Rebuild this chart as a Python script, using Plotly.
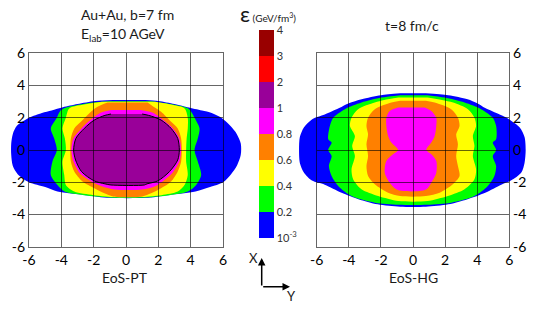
import plotly.graph_objects as go

W, H = 540, 309

# ---------------- data ----------------
LEVEL_COLORS = ["#0000FF", "#00FF00", "#FFFF00", "#FF8000", "#FF00FF", "#990099", "#FF0000", "#990000"]
CBAR_TICKTEXT = ["10<sup>-3</sup>", "0.2", "0.4", "0.6", "0.8", "1", "2", "3", "4"]
AXIS_TICKS = [-6, -4, -2, 0, 2, 4, 6]
AXIS_TICKTEXT = ["-6", "-4", "-2", "0", "2", "4", "6"]

# EoS-PT (left panel): contour regions as y-profiles of left/right edges (fm)
PT_BLUE_Y = [3.1, 3.04, 2.85, 2.65, 2.45, 2.3, 2.0, 1.5, 1.0, 0.4, -0.3, -1.0, -1.5, -2.0, -2.3, -2.58, -2.8, -2.97]
PT_BLUE_XL = [-0.8, -1.9, -3.0, -3.9, -4.6, -5.2, -6.0, -6.75, -7.0, -7.1, -7.1, -7.0, -6.7, -6.0, -5.0, -4.24, -2.5, -1.0]
PT_BLUE_XR = [1.2, 2.0, 3.0, 3.8, 4.7, 5.3, 5.9, 6.45, 6.85, 7.1, 7.1, 6.85, 6.5, 6.0, 5.2, 4.3, 2.6, 1.2]

PT_GREEN_Y = [3.03, 2.9, 2.6, 2.38, 2.0, 1.34, 0.72, 0.0, -0.72, -1.55, -2.17, -2.58, -2.8, -2.94]
PT_GREEN_XL = [-1.0, -2.4, -3.8, -4.1, -4.28, -4.65, -4.44, -4.28, -4.55, -4.65, -4.24, -3.8, -2.6, -1.0]
PT_GREEN_XR = [1.5, 2.5, 3.8, 4.03, 4.24, 4.55, 4.44, 4.24, 4.44, 4.65, 4.34, 3.82, 2.7, 1.2]

PT_YELLOW_Y = [2.99, 2.85, 2.58, 2.0, 1.34, 0.72, 0.0, -0.72, -1.55, -2.17, -2.58, -2.8, -2.91]
PT_YELLOW_XL = [-1.5, -2.4, -3.51, -3.72, -3.93, -3.78, -3.72, -3.93, -3.82, -3.72, -3.2, -2.0, -0.8]
PT_YELLOW_XR = [1.8, 2.6, 3.62, 3.82, 3.82, 3.75, 3.72, 3.72, 3.82, 3.62, 3.2, 2.2, 1.0]

PT_ORANGE_Y = [2.95, 2.69, 2.38, 1.76, 1.34, 0.72, 0.0, -0.72, -1.34, -1.96, -2.38, -2.69, -2.88]
PT_ORANGE_XL = [-1.14, -1.76, -2.17, -2.79, -3.2, -3.41, -3.45, -3.41, -3.2, -2.69, -1.96, -1.34, -0.8]
PT_ORANGE_XR = [1.34, 1.7, 2.17, 2.79, 3.2, 3.41, 3.45, 3.41, 3.2, 2.79, 2.17, 1.55, 1.0]

PT_MAGENTA_Y = [2.48, 2.3, 1.86, 1.34, 0.72, 0.0, -0.72, -1.45, -1.92, -2.25, -2.45]
PT_MAGENTA_XL = [-0.9, -1.6, -2.2, -2.75, -3.25, -3.38, -3.25, -2.85, -2.2, -1.5, -0.7]
PT_MAGENTA_XR = [0.9, 1.7, 2.3, 2.9, 3.3, 3.4, 3.3, 2.85, 2.3, 1.8, 1.0]

PT_PURPLE_Y = [2.23, 2.15, 1.86, 1.34, 0.72, 0.0, -0.62, -1.34, -1.92, -2.1, -2.17]
PT_PURPLE_XL = [-0.93, -1.3, -1.96, -2.58, -3.1, -3.24, -3.12, -2.75, -1.96, -1.3, -0.93]
PT_PURPLE_XR = [1.0, 1.4, 2.17, 2.79, 3.2, 3.3, 3.2, 2.69, 1.96, 1.3, 1.14]

# EoS-HG (right panel)
HG_BLUE_Y = [3.52, 3.4, 3.15, 2.9, 2.6, 2.2, 1.9, 1.4, 0.8, 0.0, -0.8, -1.4, -1.9, -2.15, -2.65, -3.05, -3.37, -3.52]
HG_BLUE_XL = [-0.8, -2.0, -3.2, -4.0, -4.6, -5.5, -6.3, -6.8, -7.05, -7.1, -7.05, -6.8, -6.3, -5.5, -4.45, -3.4, -2.2, -0.8]
HG_BLUE_XR = [0.8, 2.2, 3.4, 4.0, 4.5, 5.4, 6.0, 6.65, 6.95, 7.02, 6.95, 6.75, 6.1, 5.5, 4.5, 3.4, 2.2, 0.8]

HG_GREEN_Y = [3.4, 3.25, 2.94, 2.53, 2.0, 1.49, 0.66, 0.46, 0.0, -0.37, -1.0, -1.62, -2.24, -2.86, -3.27, -3.4]
HG_GREEN_XL = [-0.8, -1.97, -3.21, -4.24, -4.97, -5.18, -5.28, -5.07, -5.28, -5.07, -5.24, -5.07, -4.66, -3.83, -2.38, -0.9]
HG_GREEN_XR = [0.9, 1.97, 3.21, 4.24, 4.97, 5.18, 5.18, 4.97, 5.18, 4.97, 5.18, 5.07, 4.66, 3.83, 2.38, 0.9]

HG_YELLOW_Y = [3.25, 3.1, 2.94, 2.53, 2.0, 1.49, 0.87, 0.25, -0.37, -1.2, -1.82, -2.44, -2.86, -3.17]
HG_YELLOW_XL = [-0.9, -1.8, -2.38, -3.42, -3.83, -3.93, -3.62, -3.79, -3.62, -3.83, -3.73, -3.21, -2.17, -0.9]
HG_YELLOW_XR = [0.9, 1.8, 2.5, 3.42, 3.83, 3.93, 3.73, 3.83, 3.73, 3.93, 3.83, 3.21, 2.17, 0.9]

HG_ORANGE_Y = [3.05, 2.94, 2.53, 2.0, 1.49, 0.97, 0.35, -0.37, -1.0, -1.62, -2.13, -2.65, -2.86]
HG_ORANGE_XL = [-0.8, -1.35, -2.38, -2.8, -2.9, -2.8, -2.9, -2.8, -2.9, -2.8, -2.38, -1.55, -0.8]
HG_ORANGE_XR = [0.8, 1.35, 2.38, 2.8, 2.9, 2.69, 2.8, 2.69, 2.8, 2.9, 2.48, 1.66, 0.8]

HG_MAGENTA_Y = [2.63, 2.42, 2.0, 1.49, 0.87, 0.46, 0.0, -0.27, -0.68, -1.41, -2.03, -2.44, -2.55]
HG_MAGENTA_XL = [-0.93, -1.45, -1.66, -1.66, -1.55, -1.35, -0.93, -1.24, -1.66, -1.76, -1.45, -1.04, -0.6]
HG_MAGENTA_XR = [0.72, 1.14, 1.45, 1.45, 1.35, 1.14, 0.83, 1.14, 1.45, 1.45, 1.14, 0.83, 0.4]

PT_LEVELS = [
    (PT_BLUE_Y, PT_BLUE_XL, PT_BLUE_XR, 0),
    (PT_GREEN_Y, PT_GREEN_XL, PT_GREEN_XR, 1),
    (PT_YELLOW_Y, PT_YELLOW_XL, PT_YELLOW_XR, 2),
    (PT_ORANGE_Y, PT_ORANGE_XL, PT_ORANGE_XR, 3),
    (PT_MAGENTA_Y, PT_MAGENTA_XL, PT_MAGENTA_XR, 4),
    (PT_PURPLE_Y, PT_PURPLE_XL, PT_PURPLE_XR, 5),
]
HG_LEVELS = [
    (HG_BLUE_Y, HG_BLUE_XL, HG_BLUE_XR, 0),
    (HG_GREEN_Y, HG_GREEN_XL, HG_GREEN_XR, 1),
    (HG_YELLOW_Y, HG_YELLOW_XL, HG_YELLOW_XR, 2),
    (HG_ORANGE_Y, HG_ORANGE_XL, HG_ORANGE_XR, 3),
    (HG_MAGENTA_Y, HG_MAGENTA_XL, HG_MAGENTA_XR, 4),
]

# ---------------- layout geometry (pixels) ----------------
GRID_L = (29.0, 223.0)
GRID_R = (316.7, 509.3)
GRID_Y = (53.3, 246.7)
DATA_HALF = 7.5  # data axes span wider than the grid, as in the original


def px_dom_x(a, b):
    return [a / W, b / W]


def data_dom(grid):
    a, b = grid
    s = (b - a) / 12.0
    return px_dom_x((a + b) / 2 - DATA_HALF * s, (a + b) / 2 + DATA_HALF * s)


ydom = [1 - GRID_Y[1] / H, 1 - GRID_Y[0] / H]

fig = go.Figure()


def add_regions(levels, xa, ya):
    for ys, xl, xr, ci in levels:
        px = list(xl) + list(xr)[::-1]
        py = list(ys) + list(ys)[::-1]
        is_core = (ci == 5)
        fig.add_trace(go.Scatter(
            x=px, y=py, mode="lines", fill="toself",
            fillcolor=LEVEL_COLORS[ci],
            line=dict(color="black" if is_core else LEVEL_COLORS[ci],
                      width=1.0 if is_core else 0, shape="spline", smoothing=0.8),
            hoverinfo="skip", showlegend=False, xaxis=xa, yaxis=ya))


add_regions(PT_LEVELS, "x", "y")
add_regions(HG_LEVELS, "x2", "y2")

# colour bar carrier (invisible marker)
n = len(LEVEL_COLORS)
cscale = []
for i, c in enumerate(LEVEL_COLORS):
    cscale.append([i / n, c])
    cscale.append([(i + 1) / n, c])
fig.add_trace(go.Scatter(
    x=[0], y=[0], mode="markers", xaxis="x", yaxis="y", hoverinfo="skip", showlegend=False,
    marker=dict(size=1, opacity=0, color=[0], colorscale=cscale, cmin=0, cmax=n, showscale=True,
                colorbar=dict(x=259 / W, xanchor="left", xpad=0, y=1 - 30 / H, yanchor="top", ypad=0,
                              len=208 / H, lenmode="fraction", thickness=15, outlinewidth=0,
                              tickvals=list(range(n + 1)), ticktext=CBAR_TICKTEXT, ticks="",
                              tickfont=dict(family="Lato", size=11, color="#333333")))))

# empty traces to create the grid subplots
fig.add_trace(go.Scatter(x=[], y=[], xaxis="x3", yaxis="y3", showlegend=False))
fig.add_trace(go.Scatter(x=[], y=[], xaxis="x4", yaxis="y4", showlegend=False))

GRIDC = "rgba(0,0,0,0.6)"
hidden = dict(visible=False, showgrid=False, zeroline=False, fixedrange=True)
grid_ax = dict(range=[-6, 6], tickvals=AXIS_TICKS, ticktext=AXIS_TICKTEXT, showgrid=True,
               gridcolor=GRIDC, gridwidth=1,
               zeroline=False, showline=True, mirror=True, linecolor=GRIDC, linewidth=1,
               ticks="", tickfont=dict(family="Lato", size=14, color="black"), fixedrange=True)

fig.update_layout(
    width=W, height=H, margin=dict(l=0, r=0, t=0, b=0, autoexpand=False),
    paper_bgcolor="white", plot_bgcolor="rgba(0,0,0,0)",
    xaxis=dict(domain=data_dom(GRID_L), range=[-DATA_HALF, DATA_HALF], anchor="y", **hidden),
    yaxis=dict(domain=ydom, range=[-6, 6], anchor="x", **hidden),
    xaxis2=dict(domain=data_dom(GRID_R), range=[-DATA_HALF, DATA_HALF], anchor="y2", **hidden),
    yaxis2=dict(domain=ydom, range=[-6, 6], anchor="x2", **hidden),
    xaxis3=dict(domain=px_dom_x(*GRID_L), anchor="y3", **grid_ax),
    yaxis3=dict(domain=ydom, anchor="x3", side="left", **grid_ax),
    xaxis4=dict(domain=px_dom_x(*GRID_R), anchor="y4", **grid_ax),
    yaxis4=dict(domain=ydom, anchor="x4", side="right", **grid_ax),
    font=dict(family="Lato", color="#1a1a1a"),
)


def ann(text, xp, yp, size=14, **kw):
    fig.add_annotation(text=text, x=xp / W, y=1 - yp / H, xref="paper", yref="paper",
                       showarrow=False, font=dict(family="Lato", size=size, color="#1a1a1a"),
                       xanchor="center", yanchor="middle", **kw)


ann("Au+Au, b=7 fm", 127, 14)
ann("E<sub>lab</sub>=10 AGeV", 123, 34)
ann("t=8 fm/c", 412, 25)
ann("EoS-PT", 125, 277)
ann("EoS-HG", 413, 277)
ann("<span style='font-size:22px'>ε</span> (GeV/fm<sup>3</sup>)", 268, 13, size=10)
ann("X", 253, 258, size=13)
ann("Y", 291, 296, size=13)

# axis-direction arrows
fig.add_annotation(x=261.7 / W, y=1 - 258 / H, xref="paper", yref="paper", text="", showarrow=True,
                   ax=0, ay=29, arrowhead=2, arrowsize=1, arrowwidth=1.5, arrowcolor="black")
fig.add_annotation(x=290 / W, y=1 - 286.7 / H, xref="paper", yref="paper", text="", showarrow=True,
                   ax=-28.3, ay=0, arrowhead=2, arrowsize=1, arrowwidth=1.5, arrowcolor="black")

fig.write_html("out.html", config={"displayModeBar": False},
               post_script="document.body.style.margin='0';document.body.style.padding='0';")
